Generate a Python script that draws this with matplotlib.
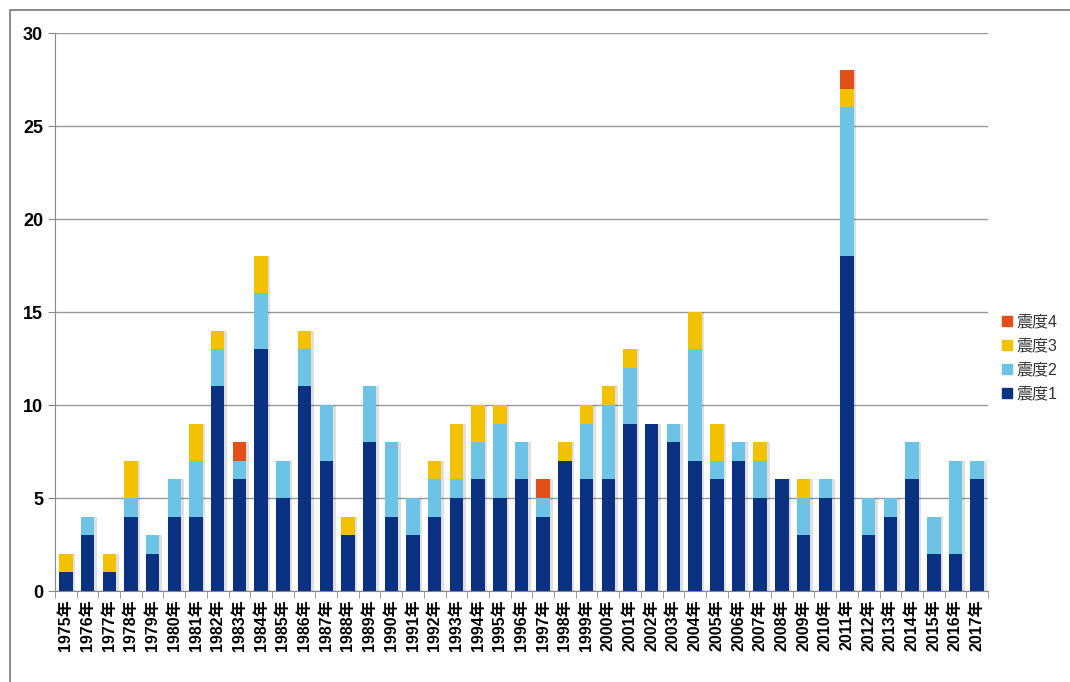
import numpy as np
import matplotlib.pyplot as plt
from matplotlib.patches import Rectangle, Patch

plt.rcParams['font.family'] = ['Liberation Sans', 'Noto Sans CJK JP', 'DejaVu Sans']

# 年ごとの震度別回数
years = [f"{y}年" for y in range(1975, 2018)]
shindo1 = [1, 3, 1, 4, 2, 4, 4, 11, 6, 13, 5, 11, 7, 3, 8, 4, 3, 4, 5, 6, 5, 6,
           4, 7, 6, 6, 9, 9, 8, 7, 6, 7, 5, 6, 3, 5, 18, 3, 4, 6, 2, 2, 6]
shindo2 = [0, 1, 0, 1, 1, 2, 3, 2, 1, 3, 2, 2, 3, 0, 3, 4, 2, 2, 1, 2, 4, 2,
           1, 0, 3, 4, 3, 0, 1, 6, 1, 1, 2, 0, 2, 1, 8, 2, 1, 2, 2, 5, 1]
shindo3 = [1, 0, 1, 2, 0, 0, 2, 1, 0, 2, 0, 1, 0, 1, 0, 0, 0, 1, 3, 2, 1, 0,
           0, 1, 1, 1, 1, 0, 0, 2, 2, 0, 1, 0, 1, 0, 1, 0, 0, 0, 0, 0, 0]
shindo4 = [0, 0, 0, 0, 0, 0, 0, 0, 1, 0, 0, 0, 0, 0, 0, 0, 0, 0, 0, 0, 0, 0,
           1, 0, 0, 0, 0, 0, 0, 0, 0, 0, 0, 0, 0, 0, 1, 0, 0, 0, 0, 0, 0]

series = [("震度1", shindo1, "#0b3182"),
          ("震度2", shindo2, "#6cc3e6"),
          ("震度3", shindo3, "#f2c200"),
          ("震度4", shindo4, "#e2501a")]

fig = plt.figure(figsize=(10.7, 6.82), dpi=100)
ax = fig.add_axes([0.0514, 0.1334, 0.872, 0.8182])

# 外枠
fig.patches.append(Rectangle((0.009, -0.01), 1.0, 0.996, transform=fig.transFigure,
                             fill=False, edgecolor="#777777", linewidth=1.2))

x = np.arange(len(years))
width = 0.62

# 影
totals = np.sum([shindo1, shindo2, shindo3, shindo4], axis=0)
ax.bar(x + 0.12, totals, width, color="#000000", alpha=0.12, zorder=2)

bottom = np.zeros(len(years))
handles = []
for name, vals, color in series:
    ax.bar(x, vals, width, bottom=bottom, color=color, zorder=3)
    bottom += np.array(vals)
    handles.append(Patch(color=color, label=name))

ax.set_xlim(-0.5, len(years) - 0.5)
ax.set_ylim(0, 30)
ax.set_yticks(range(0, 31, 5))
ax.yaxis.grid(True, color="#999999", linewidth=1)
ax.set_axisbelow(True)

ax.set_xticks(x)
ax.set_xticklabels(years, rotation=90, fontsize=11.5, fontweight="bold")
ax.set_xticks(np.arange(-0.5, len(years), 1), minor=True)
ax.tick_params(axis="x", which="major", length=0, pad=6)
ax.tick_params(axis="x", which="minor", length=5, color="#888888")
ax.tick_params(axis="y", length=5, color="#888888", labelsize=13)
for lab in ax.get_yticklabels():
    lab.set_fontweight("bold")

for side in ["top", "right"]:
    ax.spines[side].set_visible(False)
ax.spines["left"].set_color("#888888")
ax.spines["bottom"].set_color("#888888")

leg = fig.legend(handles[::-1], [h.get_label() for h in handles[::-1]],
                 loc="center left", bbox_to_anchor=(0.926, 0.475), frameon=False,
                 fontsize=11.5, handlelength=0.6, handleheight=0.6, handletextpad=0.3,
                 labelspacing=0.55, borderpad=0.2)
for t in leg.get_texts():
    t.set_color("#333333")

fig.savefig("out.png", dpi=100)
